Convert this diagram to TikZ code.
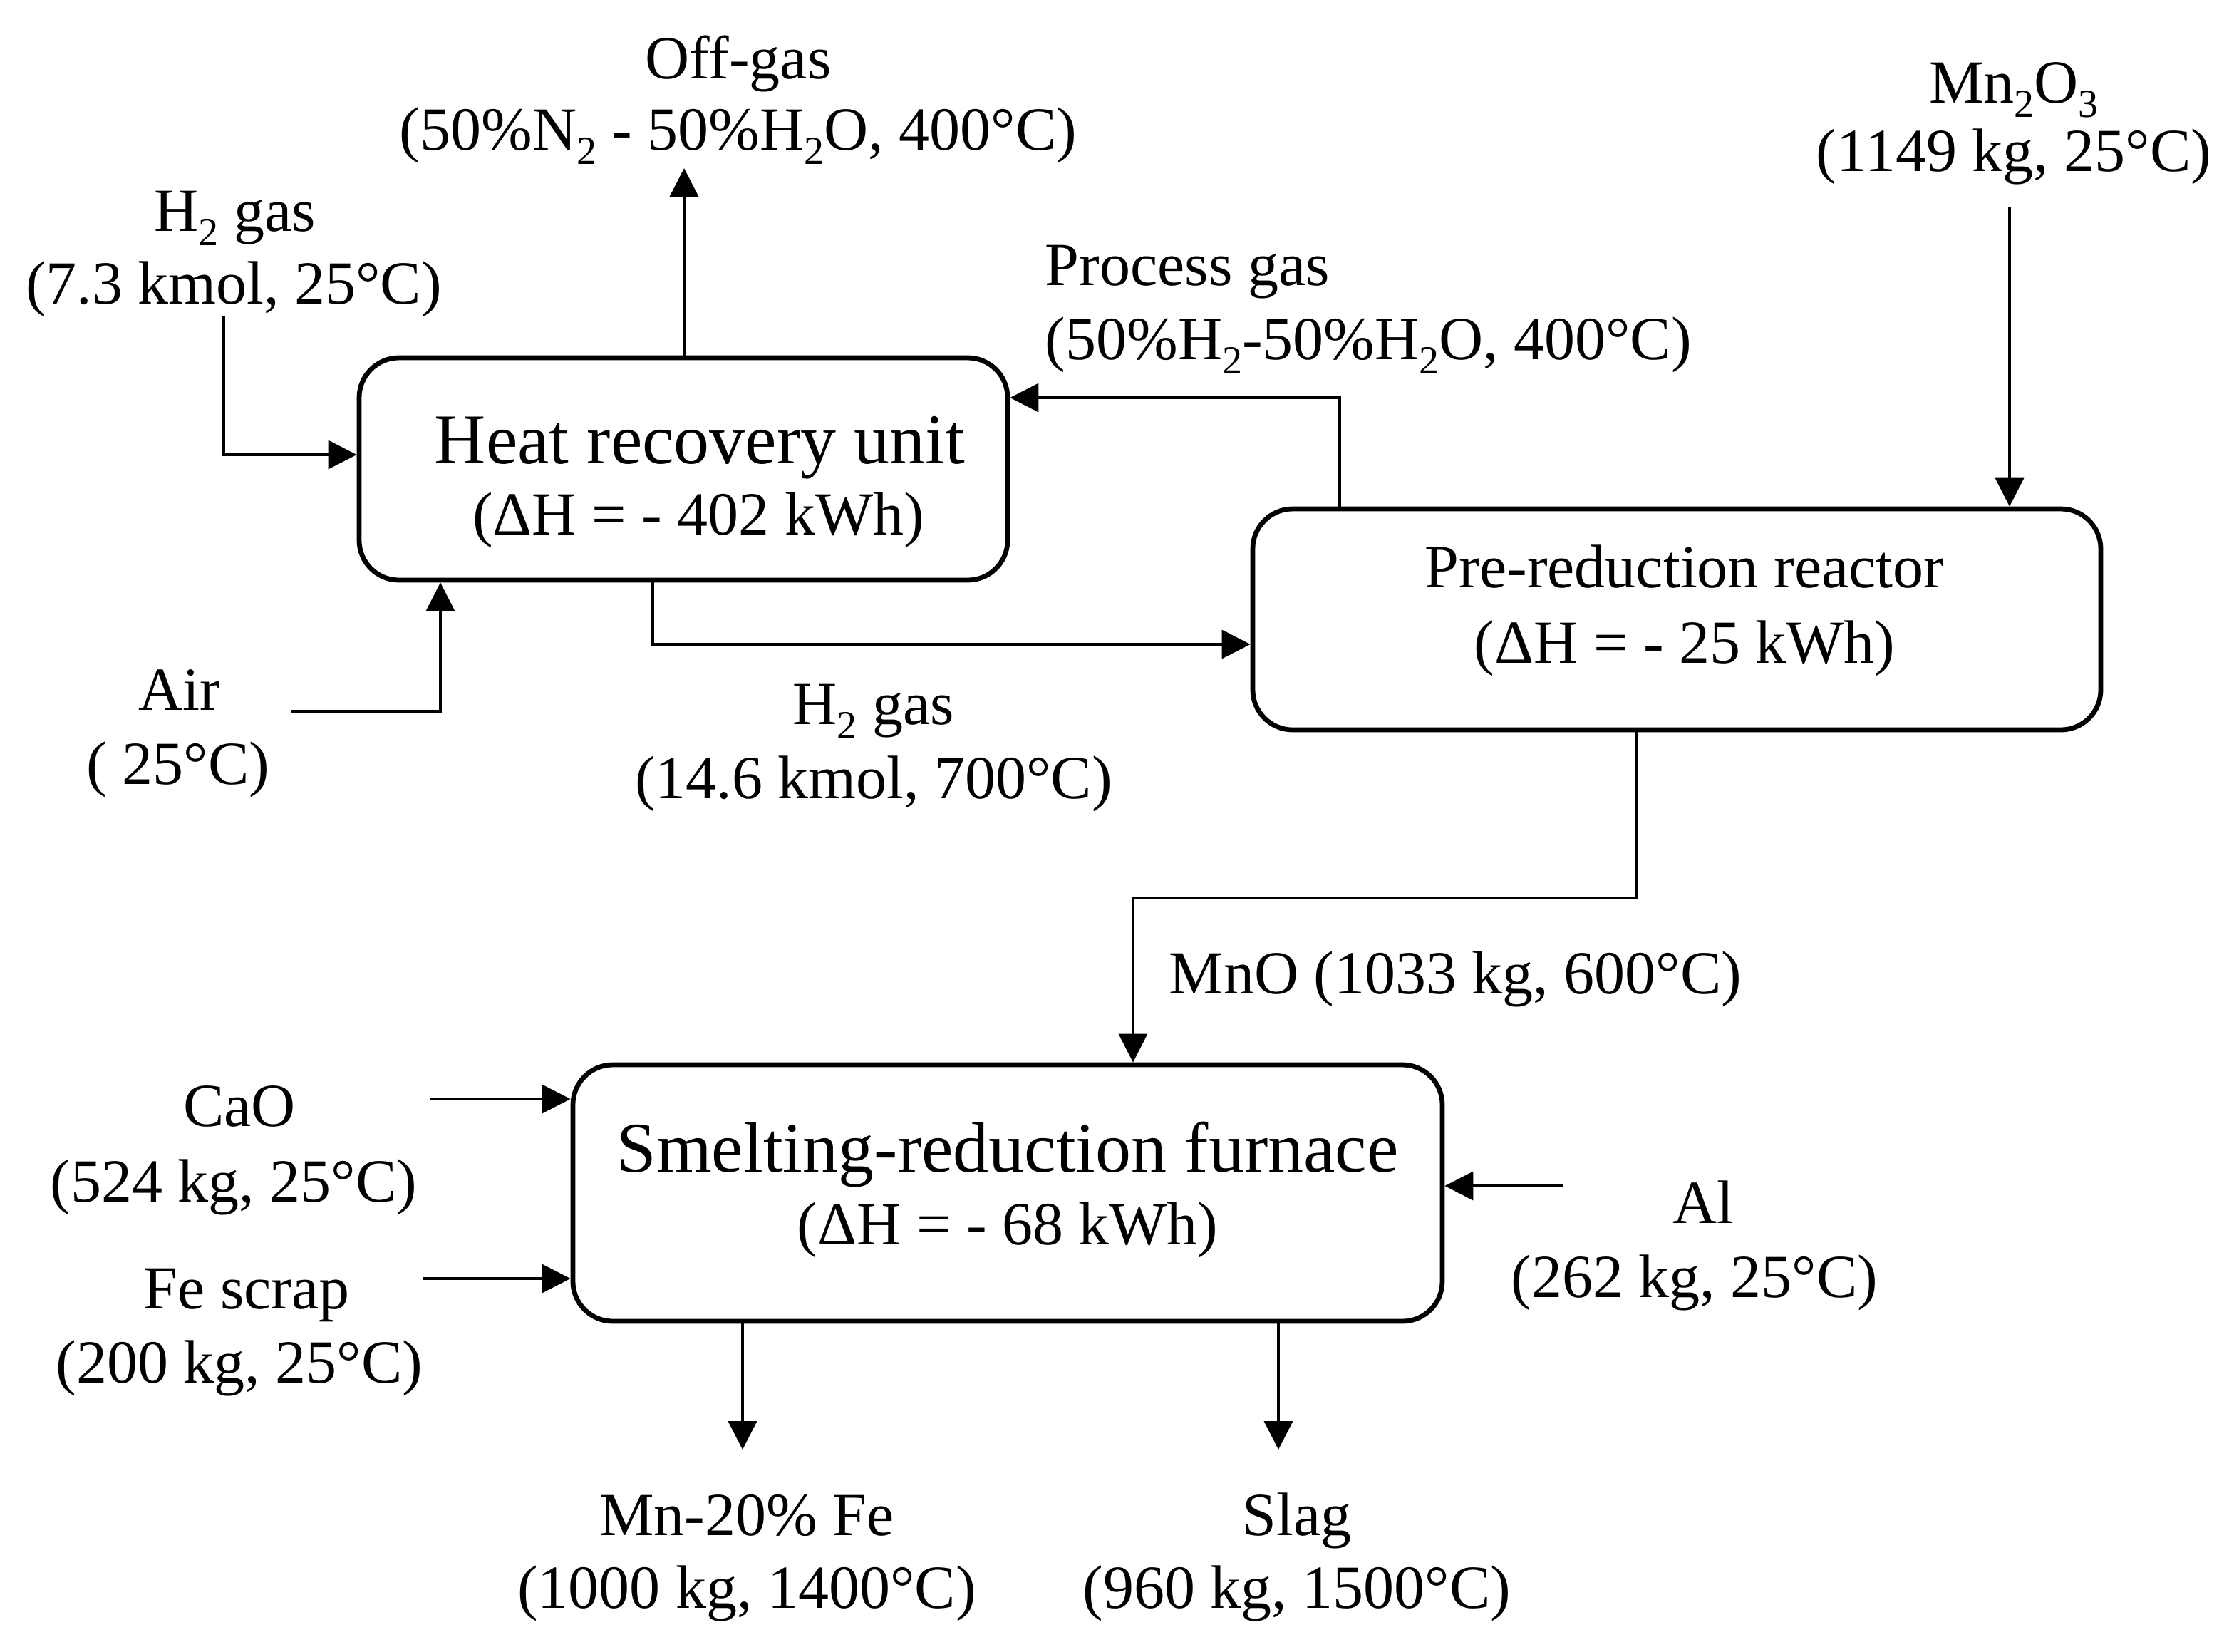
\documentclass[tikz,border=0pt]{standalone}
\usepackage{fontspec}
\setmainfont{Liberation Serif}
\usetikzlibrary{arrows.meta}
\newcommand\lowsub[1]{\raisebox{-5.2pt}{\fontsize{14}{14}\selectfont #1}}
\begin{document}
\begin{tikzpicture}[x=0.5pt,y=-0.5pt,
  box/.style={draw, line width=1.7pt, rounded corners=14pt, inner sep=0pt},
  lbl/.style={inner sep=0pt, anchor=base, font=\fontsize{21.5}{26}\selectfont},
  lbll/.style={inner sep=0pt, anchor=base west, font=\fontsize{21.5}{26}\selectfont},
  big/.style={inner sep=0pt, anchor=base, font=\fontsize{25}{30}\selectfont},
  arr/.style={line width=0.9pt, -{Triangle[length=10pt,width=10pt]}}]
\useasboundingbox (0,0) rectangle (1571,1158.5);
% boxes
\node[box, minimum width=227.5pt, minimum height=78pt] (hru) at (479.5,329) {};
\node[box, minimum width=297.5pt, minimum height=77.5pt] (prr) at (1176.5,434.5) {};
\node[box, minimum width=305pt, minimum height=90pt] (srf) at (707,837) {};
% box texts
\node[big] (hrut) at (491,325) {Heat recovery unit};
\node[lbl] (hrud) at (490,375) {(ΔH = - 402 kWh)};
\node[lbl] (prrt) at (1182,412) {Pre-reduction reactor};
\node[lbl] (prrd) at (1182,465) {(ΔH = - 25 kWh)};
\node[big] (srft) at (707,822) {Smelting-reduction furnace};
\node[lbl] (srfd) at (707,873) {(ΔH = - 68 kWh)};
% labels
\node[lbl] (offa) at (518,55) {Off-gas};
\node[lbl] (offb) at (518,105) {(50\%N\lowsub{2} - 50\%H\lowsub{2}O, 400°C)};
\node[lbl] (hia) at (165,162) {H\lowsub{2} gas};
\node[lbl] (hib) at (164,213) {(7.3 kmol, 25°C)};
\node[lbll] (pga) at (733,200) {Process gas};
\node[lbll] (pgb) at (733,252) {(50\%H\lowsub{2}-50\%H\lowsub{2}O, 400°C)};
\node[lbl] (mna) at (1413,72) {Mn\lowsub{2}O\lowsub{3}};
\node[lbl] (mnb) at (1413,120) {(1149 kg, 25°C)};
\node[lbl] (aira) at (126,498) {Air};
\node[lbl] (airb) at (125,550) {( 25°C)};
\node[lbl] (hha) at (613,508) {H\lowsub{2} gas};
\node[lbl] (hhb) at (613,560) {(14.6 kmol, 700°C)};
\node[lbll] (mno) at (820,697) {MnO (1033 kg, 600°C)};
\node[lbl] (caoa) at (168,790) {CaO};
\node[lbl] (caob) at (164,843) {(524 kg, 25°C)};
\node[lbl] (fea) at (173,918) {Fe scrap};
\node[lbl] (feb) at (168,970) {(200 kg, 25°C)};
\node[lbl] (ala) at (1195,858) {Al};
\node[lbl] (alb) at (1189,910) {(262 kg, 25°C)};
\node[lbl] (mfa) at (524,1077) {Mn-20\% Fe};
\node[lbl] (mfb) at (524,1128) {(1000 kg, 1400°C)};
\node[lbl] (sla) at (910,1077) {Slag};
\node[lbl] (slb) at (910,1128) {(960 kg, 1500°C)};
% free-end coordinates
\coordinate (offend) at (480,118);
\coordinate (hist) at (157,222);
\coordinate (hibend) at (157,319);
\coordinate (airst) at (204,499);
\coordinate (airbend) at (309,499);
\coordinate (hhst) at (458,407);
\coordinate (hhbend) at (458,452);
\coordinate (pgst) at (940,357);
\coordinate (pgbend) at (940,279);
\coordinate (mnst) at (1410,145);
\coordinate (mnost) at (1148,512);
\coordinate (mnob1) at (1148,630);
\coordinate (mnob2) at (795,630);
\coordinate (caost) at (302,771);
\coordinate (fest) at (297,897);
\coordinate (alst) at (1097,832);
\coordinate (mfend) at (521,1017);
\coordinate (slend) at (897,1017);
% connectors
\draw[arr] (offend |- hru.north) -- (offend);
\draw[arr] (hist) -- (hibend) -- (hibend -| hru.west);
\draw[arr] (airst) -- (airbend) -- (airbend |- hru.south);
\draw[arr] (hhst |- hru.south) -- (hhbend) -- (hhbend -| prr.west);
\draw[arr] (pgst |- prr.north) -- (pgbend) -- (pgbend -| hru.east);
\draw[arr] (mnst) -- (mnst |- prr.north);
\draw[arr] (mnost |- prr.south) -- (mnob1) -- (mnob2) -- (mnob2 |- srf.north);
\draw[arr] (caost) -- (caost -| srf.west);
\draw[arr] (fest) -- (fest -| srf.west);
\draw[arr] (alst) -- (alst -| srf.east);
\draw[arr] (mfend |- srf.south) -- (mfend);
\draw[arr] (slend |- srf.south) -- (slend);
\end{tikzpicture}
\end{document}
